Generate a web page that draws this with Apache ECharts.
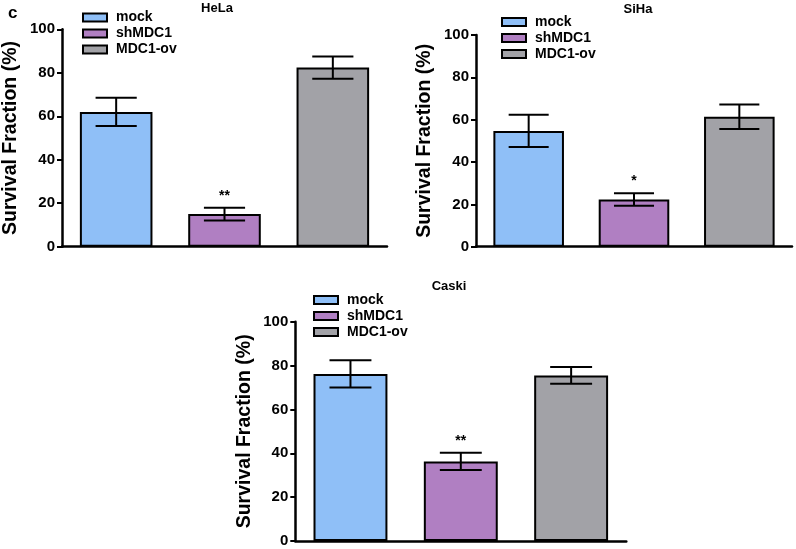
<!DOCTYPE html>
<html><head><meta charset="utf-8">
<script src="https://cdn.jsdelivr.net/npm/echarts@6/dist/echarts.min.js"></script>
<style>html,body{margin:0;padding:0;background:#fff}#c{width:796px;height:549px}</style>
</head><body><div id="c"></div>
<script>
const categories = ['mock', 'shMDC1', 'MDC1-ov'];
const panelTitles = ['HeLa', 'SiHa', 'Caski'];
const helaMean = [62.0, 15.0, 82.4];
const helaErr = [6.5, 2.9, 5.1];
const helaSig = ['', '**', ''];
const sihaMean = [54.7, 22.3, 61.4];
const sihaErr = [7.6, 3.0, 5.8];
const sihaSig = ['', '*', ''];
const caskiMean = [76.2, 36.3, 75.5];
const caskiErr = [6.2, 3.9, 3.8];
const caskiSig = ['', '**', ''];
const yTicks = [0, 20, 40, 60, 80, 100];
const colors = ['#8fbff7', '#b07fc2', '#a2a2a7'];

const means = [helaMean, sihaMean, caskiMean];
const errs = [helaErr, sihaErr, caskiErr];
const sigs = [helaSig, sihaSig, caskiSig];

const FONT = 'Liberation Sans, Arial, Helvetica, sans-serif';
const grids = [
  {left: 60, top: 29.3, width: 327, height: 217.4},
  {left: 476, top: 35, width: 316, height: 211.7},
  {left: 295.3, top: 321.7, width: 331, height: 219.3}
];
const legendPos = [
  {left: 77, top: 5.5},
  {left: 496, top: 10},
  {left: 308, top: 288}
];
const titlePos = [
  {x: 217, y: 2},
  {x: 638, y: 3},
  {x: 449, y: 280}
];

const option = {
  backgroundColor: '#fff',
  animation: false,
  textStyle: {fontFamily: FONT},
  title: panelTitles.map((t, i) => ({
    text: t, left: titlePos[i].x, top: titlePos[i].y, textAlign: 'center', padding: 0,
    textStyle: {fontSize: 13, fontWeight: 'bold', color: '#000', fontFamily: FONT}
  })),
  graphic: [{type: 'text', left: 8, top: 5, style: {text: 'c', font: 'bold 17px ' + FONT, fill: '#000'}}],
  legend: legendPos.map((p, i) => ({
    data: categories, orient: 'vertical', left: p.left, top: p.top,
    itemWidth: 24, itemHeight: 8, itemGap: 2, icon: 'rect', selectedMode: false,
    itemStyle: {borderColor: '#000', borderWidth: 2},
    textStyle: {fontSize: 14, fontWeight: 'bold', color: '#000', fontFamily: FONT, lineHeight: 14, padding: [0, 0, 0, 4]}
  })),
  grid: grids,
  xAxis: grids.map((g, i) => ({
    type: 'category', gridIndex: i, data: categories,
    axisLabel: {show: false}, axisTick: {show: false},
    axisLine: {lineStyle: {color: '#000', width: 2.5}}
  })),
  yAxis: grids.map((g, i) => ({
    type: 'value', gridIndex: i, min: yTicks[0], max: yTicks[yTicks.length - 1], interval: yTicks[1] - yTicks[0],
    name: 'Survival Fraction (%)', nameLocation: 'middle', nameGap: 41,
    nameTextStyle: {fontSize: 19.5, fontWeight: 'bold', color: '#000', fontFamily: FONT},
    axisLine: {show: true, lineStyle: {color: '#000', width: 2.5}},
    axisTick: {show: true, length: 5, lineStyle: {color: '#000', width: 2}},
    axisLabel: {fontSize: 15, fontWeight: 'bold', color: '#000', margin: 7, fontFamily: FONT},
    splitLine: {show: false}
  })),
  series: []
};

for (let p = 0; p < 3; p++) {
  for (let g = 0; g < 3; g++) {
    option.series.push({
      type: 'bar', name: categories[g], xAxisIndex: p, yAxisIndex: p,
      data: categories.map((c, k) => k === g ? means[p][k] : '-'),
      barWidth: '67%', barGap: '-100%',
      itemStyle: {color: colors[g], borderColor: '#000', borderWidth: 2}
    });
  }
  option.series.push({
    type: 'custom', xAxisIndex: p, yAxisIndex: p, z: 10,
    data: categories.map((c, k) => [k, means[p][k], errs[p][k]]),
    encode: {x: 0, y: 1},
    renderItem: (function (pi) {
      return function (params, api) {
        const k = api.value(0), m = api.value(1), e = api.value(2);
        const top = api.coord([k, m + e]);
        const bot = api.coord([k, m - e]);
        const band = api.size([1, 0])[0];
        const hw = band * 0.19;
        const st = {stroke: '#000', lineWidth: 2, fill: null};
        const children = [
          {type: 'line', shape: {x1: top[0], y1: top[1], x2: bot[0], y2: bot[1]}, style: st},
          {type: 'line', shape: {x1: top[0] - hw, y1: top[1], x2: top[0] + hw, y2: top[1]}, style: st},
          {type: 'line', shape: {x1: bot[0] - hw, y1: bot[1], x2: bot[0] + hw, y2: bot[1]}, style: st}
        ];
        const s = sigs[pi][k];
        if (s) {
          children.push({type: 'text', style: {text: s, x: top[0], y: top[1] - 5, align: 'center', verticalAlign: 'bottom', font: 'bold 14px ' + FONT, fill: '#000'}});
        }
        return {type: 'group', children: children};
      };
    })(p)
  });
}

const chart = echarts.init(document.getElementById('c'), null, {renderer: 'canvas'});
chart.setOption(option);
</script></body></html>
